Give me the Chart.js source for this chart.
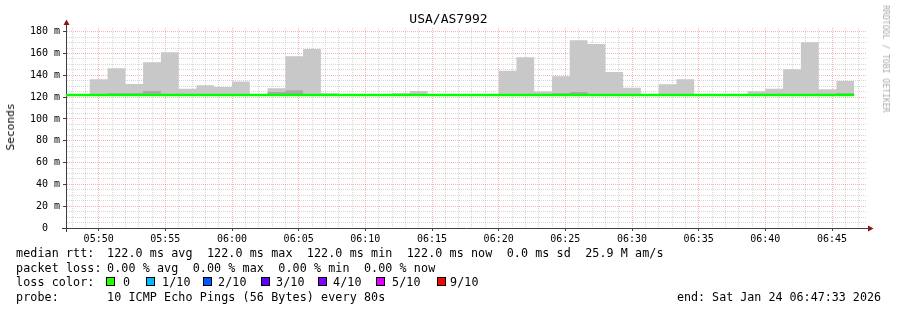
<!DOCTYPE html>
<html><head><meta charset="utf-8">
<script src="https://cdn.jsdelivr.net/npm/chart.js@4/dist/chart.umd.min.js"></script>
<style>
html,body{margin:0;padding:0;background:#fff;}
#wrap{position:relative;width:897px;height:310px;overflow:hidden;background:#fff;}
canvas{position:absolute;left:0;top:0;}
.t{position:absolute;font-family:'DejaVu Sans Mono',monospace;white-space:pre;color:#000;line-height:14px;height:14px;}
.lg{font-size:11.7px;letter-spacing:0.1px;}
.box{position:absolute;width:7px;height:7px;border:1px solid #000;top:277px;}
</style></head><body>
<div id="wrap">
<canvas id="c" width="897" height="310"></canvas>
<div class="t" style="left:0;width:897px;text-align:center;top:12px;font-size:13px;">USA/AS7992</div>
<div class="t" style="left:11px;top:127px;font-size:11.2px;transform:translate(-50%,-50%) rotate(-90deg);">Seconds</div>
<div class="t" style="left:886px;top:59px;font-size:8.1px;color:#aaaaaa;transform:translate(-50%,-50%) rotate(90deg);">RRDTOOL / TOBI OETIKER</div>

<div class="t lg" style="left:16px;top:246px;">median rtt:</div>
<div class="t lg" style="left:107px;top:246px;">122.0 ms avg  122.0 ms max  122.0 ms min  122.0 ms now  0.0 ms sd  25.9 M am/s</div>
<div class="t lg" style="left:16px;top:261px;">packet loss:</div>
<div class="t lg" style="left:107px;top:261px;">0.00 % avg  0.00 % max  0.00 % min  0.00 % now</div>
<div class="t lg" style="left:16px;top:275px;">loss color:</div>
<div id="losslegend"></div>
<div class="t lg" style="left:16px;top:290px;">probe:</div>
<div class="t lg" style="left:107px;top:290px;">10 ICMP Echo Pings (56 Bytes) every 80s</div>
<div class="t lg" style="right:16px;top:290px;letter-spacing:0;">end: Sat Jan 24 06:47:33 2026</div>
</div>
<script>
// ---- data ----
const windowStartTime = '05:47:33';
const windowEndTime = '06:47:33';
const firstBinTime = '05:46:40';
const binSeconds = 80;
const timeLabels = ['05:50','05:55','06:00','06:05','06:10','06:15','06:20','06:25','06:30','06:35','06:40','06:45'];
const yTickValues = [0,20,40,60,80,100,120,140,160,180];
const yTickLabels = ['0  ','20 m','40 m','60 m','80 m','100 m','120 m','140 m','160 m','180 m'];
const yMax = 183.4;
// highest ping per 80 s step (ms)
const smokeMax = [122,122,136.5,146.5,132,152,161.2,127.6,131,129.4,134.3,122,128.2,157.5,164.2,123.6,122,122,122,123.6,125.7,122,122,122,122,144.1,156.6,125.2,139.2,172.2,168.8,143.1,128.5,122,131.9,136.4,122,122,122,125.5,127.6,145.6,170.3,127.3,134.9];
// second highest ping per step (ms)
const smokeInner = [122,122,122,123.6,123.6,125.6,122,122,122,122,122,122,124.6,126.4,122,122,122,122,122,122,122,122,122,122,122,122,122,122,123.6,124.7,122,122,122,122,122,122,122,122,122,122,122,122,122,122,123.5];
// median rtt per step (ms)
const medianRtt = [122,122,122,122,122,122,122,122,122,122,122,122,122,122,122,122,122,122,122,122,122,122,122,122,122,122,122,122,122,122,122,122,122,122,122,122,122,122,122,122,122,122,122,122,122];
const lossLabels = ['0','1/10','2/10','3/10','4/10','5/10','9/10'];
const lossColors = ['#26ff00','#00b8ff','#0059ff','#5e00ff','#7e00ff','#dd00ff','#ff0000'];

// ---- helpers ----
function toSec(s){ const p=s.split(':').map(Number); return p[0]*3600+p[1]*60+(p[2]||0); }
const t0 = toSec(firstBinTime);
const xMin = toSec(windowStartTime), xMax = toSec(windowEndTime);
function steps(vals){
  const pts = vals.map((v,i)=>({x:t0+i*binSeconds, y:v}));
  pts.push({x:t0+vals.length*binSeconds, y:vals[vals.length-1]});
  return pts;
}
const majorX = timeLabels.map(toSec);
const labelByX = {}; majorX.forEach((v,i)=>labelByX[v]=timeLabels[i]);

// loss color legend
(function(){
  const boxX=[106,146,203,261,318,376,437], txtX=[123,162,218,276,333,392,450];
  const host=document.getElementById('losslegend');
  lossLabels.forEach((l,i)=>{
    const b=document.createElement('div'); b.className='box'; b.style.left=boxX[i]+'px'; b.style.background=lossColors[i]; host.appendChild(b);
    const t=document.createElement('div'); t.className='t lg'; t.style.left=txtX[i]+'px'; t.style.top='275px'; t.textContent=l; host.appendChild(t);
  });
})();

const MINOR='rgba(150,150,150,0.38)', MAJOR='rgba(255,0,0,0.3)', AXIS='#404040';

const arrows = {
  id:'arrows',
  afterDraw(chart){
    const {ctx, chartArea:a} = chart;
    ctx.save();
    ctx.strokeStyle=AXIS; ctx.lineWidth=1;
    ctx.beginPath();
    ctx.moveTo(a.left+0.5, a.top); ctx.lineTo(a.left+0.5, 22);
    ctx.moveTo(a.left+0.5, a.bottom); ctx.lineTo(a.left+0.5, a.bottom+4);
    ctx.moveTo(a.right, a.bottom+0.5); ctx.lineTo(870, a.bottom+0.5);
    ctx.moveTo(a.left-4, a.bottom+0.5); ctx.lineTo(a.left, a.bottom+0.5);
    ctx.stroke();
    ctx.fillStyle='#8b1414';
    ctx.beginPath(); ctx.moveTo(a.left+0.5-3,25); ctx.lineTo(a.left+0.5+3,25); ctx.lineTo(a.left+0.5,19.5); ctx.closePath(); ctx.fill();
    ctx.beginPath(); ctx.moveTo(868,a.bottom+0.5-3); ctx.lineTo(868,a.bottom+0.5+3); ctx.lineTo(873.5,a.bottom+0.5); ctx.closePath(); ctx.fill();
    ctx.restore();
  }
};

new Chart(document.getElementById('c'), {
  type:'line',
  data:{ datasets:[
    {label:'median', data:steps(medianRtt), stepped:'before', borderColor:'#00ff00', borderWidth:2.4, pointRadius:0, fill:false},
    {label:'inner', data:steps(smokeInner), stepped:'before', borderWidth:0, pointRadius:0, backgroundColor:'#aaaaaa', fill:{value:122}},
    {label:'max', data:steps(smokeMax), stepped:'before', borderWidth:0, pointRadius:0, backgroundColor:'#c8c8c8', fill:{value:122}}
  ]},
  options:{
    responsive:false, animation:false, devicePixelRatio:1,
    layout:{padding:{top:28,right:31,left:0,bottom:0}},
    plugins:{legend:{display:false}, tooltip:{enabled:false}, title:{display:false}},
    scales:{
      x:{type:'linear', min:xMin, max:xMax, z:1,
        afterBuildTicks(s){ const t=[]; for(let v=Math.ceil(xMin/60)*60; v<=xMax; v+=60) t.push({value:v}); s.ticks=t; },
        afterFit(s){ s.height=82; },
        ticks:{autoSkip:false, maxRotation:0, minRotation:0, padding:2, color:'#000',
          font:{family:'DejaVu Sans Mono', size:10},
          callback:(v)=> labelByX[v] || ''},
        grid:{color:(c)=> (c.tick && c.tick.value%300===0)? MAJOR : MINOR, lineWidth:1,
          drawTicks:true, tickLength:3, tickColor:(c)=> (c.tick && c.tick.value%300===0)? AXIS : 'rgba(0,0,0,0)'},
        border:{display:true, color:AXIS, width:1, dash:[1,1]}
      },
      y:{type:'linear', min:0, max:yMax, z:1,
        afterBuildTicks(s){ const t=[]; for(let v=0; v<=180; v+=5) t.push({value:v}); s.ticks=t; },
        afterFit(s){ s.width=66; },
        ticks:{autoSkip:false, padding:3, color:'#000',
          font:{family:'DejaVu Sans Mono', size:10},
          callback:(v)=>{ const i=yTickValues.indexOf(v); return i>=0? yTickLabels[i] : ''; }},
        grid:{color:(c)=> (c.tick && c.tick.value%20===0)? MAJOR : MINOR, lineWidth:1,
          drawTicks:true, tickLength:3, tickColor:(c)=> (c.tick && c.tick.value%20===0)? AXIS : 'rgba(0,0,0,0)'},
        border:{display:true, color:AXIS, width:1, dash:[1,1]}
      }
    }
  },
  plugins:[arrows]
});
</script>
</body></html>
